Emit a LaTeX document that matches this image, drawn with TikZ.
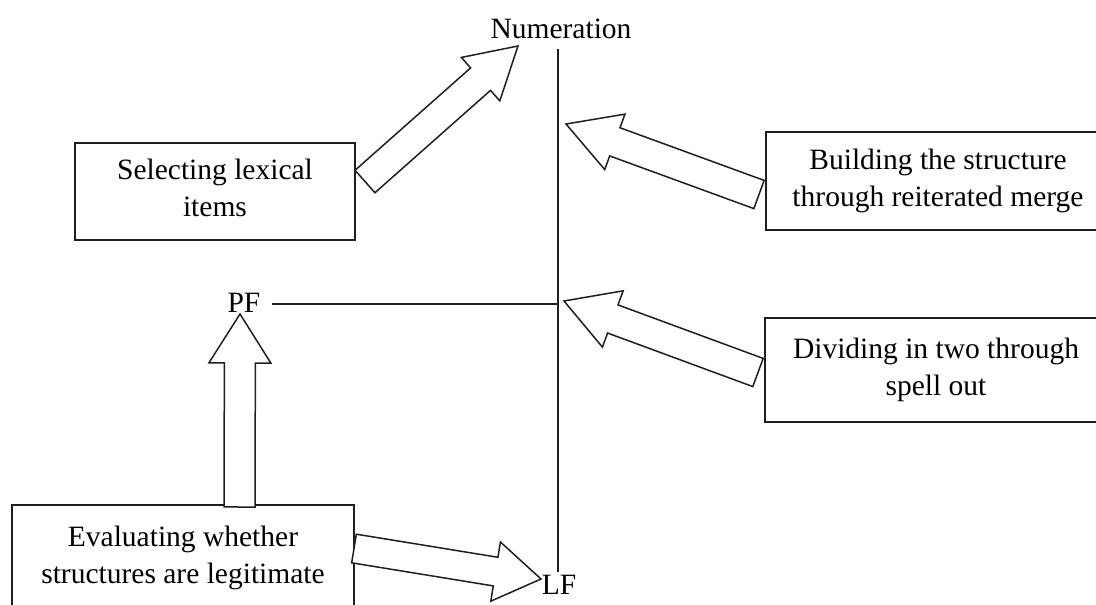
\documentclass[tikz,border=0pt]{standalone}
\usepackage{fontspec}
\setmainfont{Liberation Serif}
\usetikzlibrary{calc}
\newcommand\fatarrow[5]{%
  \coordinate (faneck) at ($(#2)!#5!(#1)$);
  \draw[fatarr] ($(#1)!#3!90:(#2)$) -- ($(faneck)!#3!90:(#2)$) -- ($(faneck)!#4!90:(#2)$) -- (#2)
    -- ($(faneck)!#4!-90:(#2)$) -- ($(faneck)!#3!-90:(#2)$) -- ($(#1)!#3!-90:(#2)$) -- cycle;}
\begin{document}
\begin{tikzpicture}[x=1pt,y=-1pt,
  ink/.style={draw=black!88, line width=1.5pt},
  box/.style={ink, rectangle, align=center, inner sep=0pt, text height=54pt, text depth=4pt,
    font=\fontsize{29.5}{37}\selectfont},
  lbl/.style={inner sep=1pt, font=\fontsize{29.5}{37}\selectfont},
  fatarr/.style={ink, fill=white, line join=miter}]
\useasboundingbox (0,0) rectangle (1096,605);
\clip (0,0) rectangle (1096,605);
% boxes
\node[box, minimum width=280pt, minimum height=97pt] (sel) at (215,191.5) {Selecting lexical\\items};
\node[box, minimum width=344pt, minimum height=98pt] (build) at (938,181) {Building the structure\\through reiterated merge};
\node[box, minimum width=342pt, minimum height=104pt] (div) at (936,370) {Dividing in two through\\spell out};
\node[box, minimum width=342pt, minimum height=106pt] (eval) at (183,558) {Evaluating whether\\structures are legitimate};
% labels
\node[lbl, anchor=base] (num) at (561,38) {Numeration};
\node[lbl, anchor=base] (pf) at (244,312) {PF};
\node[lbl, anchor=base] (lf) at (559,594) {LF};
% lines
\coordinate (spT) at (558,49);
\coordinate (spB) at (558,572);
\coordinate (pfL) at (272,304);
\draw[ink] (spT) -- (spB);
\draw[ink] (pfL) -- (pfL -| spT);
% hollow arrows
\coordinate (a1t) at (365,181.5); \coordinate (a1h) at (518,46);
\coordinate (a2t) at (759,194.5); \coordinate (a2h) at (566,124);
\coordinate (a3t) at (758,372.5); \coordinate (a3h) at (564,301);
\coordinate (a4t) at (239.5,507); \coordinate (a4h) at (240,314);
\coordinate (a5t) at (354,548.5); \coordinate (a5h) at (541,579);
\fatarrow{a1t}{a1h}{15pt}{29pt}{50pt}
\fatarrow{a2t}{a2h}{15pt}{29.5pt}{52pt}
\fatarrow{a3t}{a3h}{15pt}{30pt}{52pt}
\fatarrow{a4t}{a4h}{15.5pt}{31pt}{49pt}
\fatarrow{a5t}{a5h}{14.5pt}{30pt}{46pt}
\end{tikzpicture}
\end{document}
